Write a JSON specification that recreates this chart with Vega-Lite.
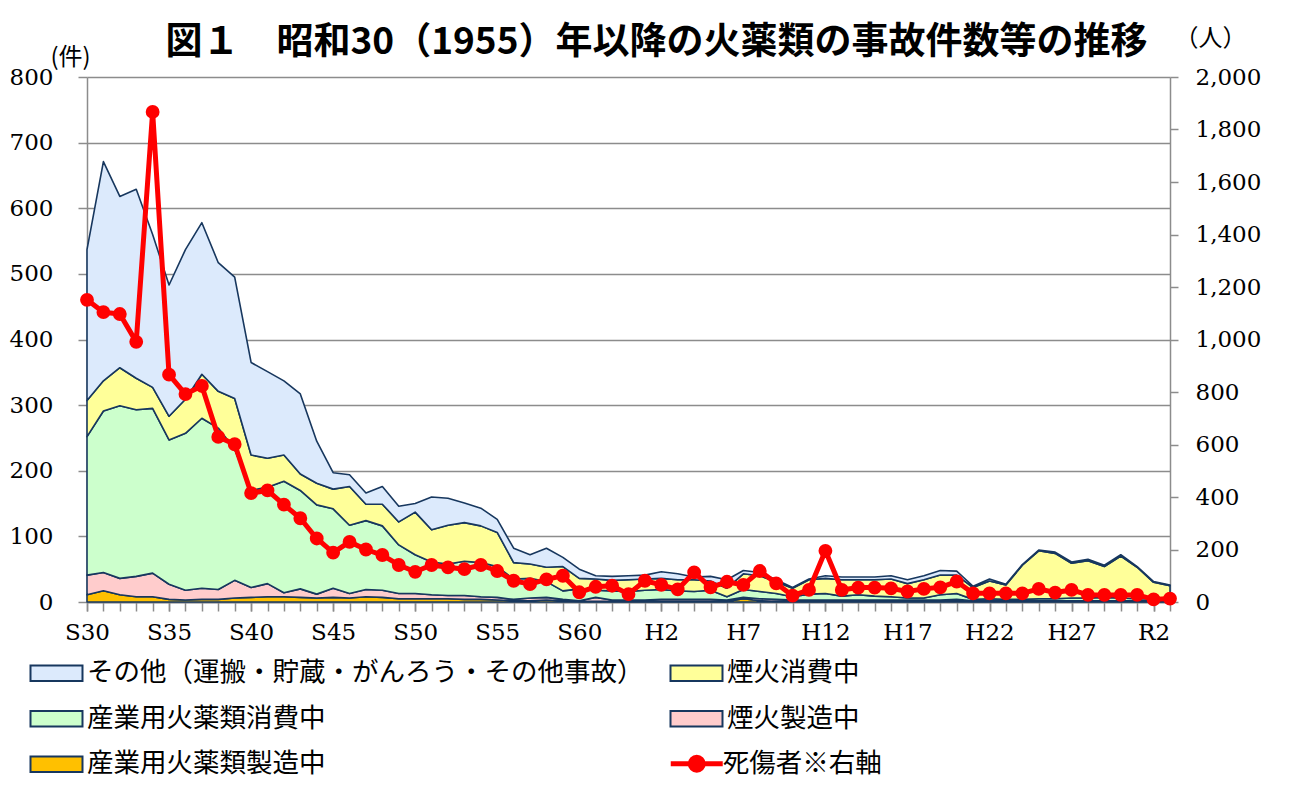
{
  "$schema": "https://vega.github.io/schema/vega-lite/v6.json",
  "width": 1083,
  "height": 525,
  "autosize": {"type": "none"},
  "padding": {"left": 87, "top": 77, "right": 137, "bottom": 183},
  "background": "white",
  "config": {"view": {"stroke": null}},
  "title": {
    "text": "図１　昭和30（1955）年以降の火薬類の事故件数等の推移",
    "font": "Noto Sans CJK JP",
    "fontSize": 37,
    "fontWeight": "bold",
    "color": "black",
    "anchor": "middle",
    "frame": "group",
    "dx": 28,
    "offset": -36
  },
  "data": {
    "values": [
      {"year":1955,"k1":11,"k2":30,"k3":211,"k4":55,"k5":230,"d":1151},
      {"year":1956,"k1":17,"k2":28,"k3":246,"k4":46,"k5":334,"d":1104},
      {"year":1957,"k1":11,"k2":25,"k3":263,"k4":58,"k5":261,"d":1097},
      {"year":1958,"k1":8,"k2":31,"k3":254,"k4":48,"k5":288,"d":991},
      {"year":1959,"k1":8,"k2":36,"k3":251,"k4":32,"k5":233,"d":1867},
      {"year":1960,"k1":4,"k2":23,"k3":220,"k4":36,"k5":200,"d":866},
      {"year":1961,"k1":3,"k2":15,"k3":239,"k4":52,"k5":228,"d":792},
      {"year":1962,"k1":4,"k2":17,"k3":259,"k4":67,"k5":231,"d":823},
      {"year":1963,"k1":4,"k2":15,"k3":246,"k4":56,"k5":196,"d":629},
      {"year":1964,"k1":6,"k2":27,"k3":200,"k4":77,"k5":185,"d":601},
      {"year":1965,"k1":7,"k2":15,"k3":148,"k4":54,"k5":141,"d":415},
      {"year":1966,"k1":8,"k2":20,"k3":147,"k4":44,"k5":132,"d":425},
      {"year":1967,"k1":8,"k2":6,"k3":170,"k4":40,"k5":113,"d":371},
      {"year":1968,"k1":7,"k2":13,"k3":150,"k4":25,"k5":122,"d":319},
      {"year":1969,"k1":6,"k2":6,"k3":136,"k4":33,"k5":64,"d":242},
      {"year":1970,"k1":7,"k2":14,"k3":121,"k4":30,"k5":25,"d":188},
      {"year":1971,"k1":6,"k2":7,"k3":104,"k4":59,"k5":18,"d":229},
      {"year":1972,"k1":8,"k2":11,"k3":105,"k4":25,"k5":17,"d":200},
      {"year":1973,"k1":7,"k2":11,"k3":98,"k4":33,"k5":27,"d":179},
      {"year":1974,"k1":5,"k2":8,"k3":74,"k4":35,"k5":24,"d":141},
      {"year":1975,"k1":5,"k2":8,"k3":59,"k4":65,"k5":13,"d":115},
      {"year":1976,"k1":5,"k2":6,"k3":50,"k4":49,"k5":50,"d":141},
      {"year":1977,"k1":5,"k2":5,"k3":48,"k4":59,"k5":41,"d":132},
      {"year":1978,"k1":4,"k2":6,"k3":52,"k4":59,"k5":30,"d":125},
      {"year":1979,"k1":4,"k2":4,"k3":52,"k4":56,"k5":27,"d":141},
      {"year":1980,"k1":3,"k2":4,"k3":47,"k4":52,"k5":20,"d":118},
      {"year":1981,"k1":2,"k2":2,"k3":31,"k4":25,"k5":22,"d":81},
      {"year":1982,"k1":2,"k2":4,"k3":30,"k4":22,"k5":14,"d":68},
      {"year":1983,"k1":3,"k2":4,"k3":24,"k4":22,"k5":29,"d":86},
      {"year":1984,"k1":2,"k2":2,"k3":13,"k4":37,"k5":14,"d":100},
      {"year":1985,"k1":1,"k2":1,"k3":18,"k4":16,"k5":14,"d":37},
      {"year":1986,"k1":1,"k2":6,"k3":11,"k4":17,"k5":5,"d":58},
      {"year":1987,"k1":1,"k2":2,"k3":14,"k4":16,"k5":6,"d":62},
      {"year":1988,"k1":1,"k2":2,"k3":13,"k4":18,"k5":6,"d":30},
      {"year":1989,"k1":1,"k2":2,"k3":15,"k4":17,"k5":6,"d":81},
      {"year":1990,"k1":1,"k2":3,"k3":15,"k4":17,"k5":10,"d":65},
      {"year":1991,"k1":1,"k2":3,"k3":13,"k4":17,"k5":9,"d":48},
      {"year":1992,"k1":1,"k2":3,"k3":12,"k4":18,"k5":4,"d":113},
      {"year":1993,"k1":1,"k2":3,"k3":14,"k4":14,"k5":7,"d":56},
      {"year":1994,"k1":1,"k2":2,"k3":5,"k4":13,"k5":13,"d":77},
      {"year":1995,"k1":5,"k2":2,"k3":12,"k4":24,"k5":5,"d":65},
      {"year":1996,"k1":2,"k2":3,"k3":11,"k4":24,"k5":5,"d":118},
      {"year":1997,"k1":1,"k2":3,"k3":9,"k4":18,"k5":3,"d":71},
      {"year":1998,"k1":1,"k2":2,"k3":5,"k4":13,"k5":1,"d":24},
      {"year":1999,"k1":1,"k2":2,"k3":9,"k4":22,"k5":1,"d":46},
      {"year":2000,"k1":1,"k2":2,"k3":10,"k4":23,"k5":4,"d":195},
      {"year":2001,"k1":1,"k2":2,"k3":6,"k4":25,"k5":4,"d":46},
      {"year":2002,"k1":1,"k2":2,"k3":8,"k4":23,"k5":4,"d":55},
      {"year":2003,"k1":1,"k2":2,"k3":6,"k4":25,"k5":4,"d":55},
      {"year":2004,"k1":1,"k2":2,"k3":5,"k4":27,"k5":5,"d":52},
      {"year":2005,"k1":1,"k2":2,"k3":3,"k4":22,"k5":6,"d":40},
      {"year":2006,"k1":1,"k2":2,"k3":3,"k4":28,"k5":6,"d":50},
      {"year":2007,"k1":1,"k2":2,"k3":8,"k4":30,"k5":7,"d":56},
      {"year":2008,"k1":2,"k2":2,"k3":9,"k4":28,"k5":6,"d":78},
      {"year":2009,"k1":1,"k2":1,"k3":2,"k4":18,"k5":2,"d":33},
      {"year":2010,"k1":1,"k2":1,"k3":3,"k4":27,"k5":3,"d":33},
      {"year":2011,"k1":1,"k2":1,"k3":2,"k4":22,"k5":1,"d":33},
      {"year":2012,"k1":1,"k2":1,"k3":2,"k4":52,"k5":1,"d":33},
      {"year":2013,"k1":1,"k2":1,"k3":3,"k4":73,"k5":1,"d":50},
      {"year":2014,"k1":1,"k2":1,"k3":3,"k4":69,"k5":2,"d":36},
      {"year":2015,"k1":1,"k2":1,"k3":4,"k4":53,"k5":2,"d":46},
      {"year":2016,"k1":1,"k2":1,"k3":4,"k4":57,"k5":2,"d":27},
      {"year":2017,"k1":1,"k2":1,"k3":5,"k4":47,"k5":2,"d":27},
      {"year":2018,"k1":1,"k2":1,"k3":4,"k4":64,"k5":2,"d":27},
      {"year":2019,"k1":1,"k2":1,"k3":3,"k4":48,"k5":1,"d":27},
      {"year":2020,"k1":1,"k2":1,"k3":3,"k4":25,"k5":1,"d":10},
      {"year":2021,"k1":1,"k2":1,"k3":3,"k4":20,"k5":1,"d":13}
    ]
  },
  "layer": [
    {
      "transform": [{"fold": ["k1", "k2", "k3", "k4", "k5"], "as": ["key", "value"]}],
      "mark": {"type": "area", "stroke": "#17375e", "strokeWidth": 1.6, "strokeJoin": "round"},
      "encoding": {
        "x": {
          "field": "year", "type": "quantitative",
          "scale": {"domain": [1955, 2021], "nice": false, "zero": false},
          "axis": {
            "orient": "bottom",
            "title": null,
            "values": [1955,1960,1965,1970,1975,1980,1985,1990,1995,2000,2005,2010,2015,2020],
            "labelExpr": "datum.value <= 1988 ? 'S' + (datum.value - 1925) : (datum.value <= 2018 ? 'H' + (datum.value - 1988) : 'R' + (datum.value - 2018))",
            "grid": false,
            "tickSize": 9,
            "tickWidth": 1.5,
            "tickColor": "#8c8c8c",
            "domainColor": "#8c8c8c",
            "domainWidth": 1.5,
            "labelFont": "DejaVu Serif",
            "labelFontSize": 23,
            "labelColor": "black",
            "labelPadding": 10,
            "labelFlush": false,
            "labelOverlap": false
          }
        },
        "y": {
          "field": "value", "type": "quantitative", "stack": "zero",
          "scale": {"domain": [0, 800], "nice": false},
          "axis": {
            "values": [0,100,200,300,400,500,600,700,800],
            "title": "(件)",
            "titleAngle": 0,
            "titleX": -17,
            "titleY": -20,
            "titleAlign": "center",
            "titleBaseline": "middle",
            "titleFont": "Noto Sans CJK JP",
            "titleFontSize": 24,
            "titleFontWeight": "normal",
            "titleColor": "black",
            "grid": true,
            "gridColor": "#8c8c8c",
            "gridWidth": 1.5,
            "tickSize": 9,
            "tickWidth": 1.5,
            "tickColor": "#8c8c8c",
            "domainColor": "#8c8c8c",
            "domainWidth": 1.5,
            "labelFont": "DejaVu Serif",
            "labelFontSize": 23,
            "labelColor": "black",
            "labelPadding": 25,
            "labelFlush": false
          }
        },
        "fill": {
          "field": "key", "type": "nominal",
          "scale": {"domain": ["k5", "k4", "k3", "k2", "k1"], "range": ["#dceafc", "#ffff99", "#ccffcc", "#ffcccc", "#ffc000"]},
          "legend": {
            "title": null,
            "orient": "none",
            "direction": "horizontal",
            "legendX": -48,
            "legendY": 578.75,
            "columns": 2,
            "columnPadding": 22,
            "rowPadding": 14.5,
            "padding": 0,
            "symbolType": "M-1.6,-0.47H1.6V0.47H-1.6Z",
            "symbolSize": 1056,
            "symbolStrokeColor": "#17375e",
            "symbolStrokeWidth": 2,
            "symbolOpacity": 1,
            "labelFont": "Noto Sans CJK JP",
            "labelFontSize": 26.5,
            "labelColor": "black",
            "labelOffset": 13,
            "labelLimit": 800,
            "labelExpr": "datum.value == 'k5' ? 'その他（運搬・貯蔵・がんろう・その他事故）' : datum.value == 'k4' ? '煙火消費中' : datum.value == 'k3' ? '産業用火薬類消費中' : datum.value == 'k2' ? '煙火製造中' : '産業用火薬類製造中'"
          }
        },
        "order": {"field": "key", "sort": "ascending"}
      }
    },
    {
      "mark": {"type": "line", "strokeWidth": 5, "strokeJoin": "round", "point": {"filled": true, "size": 140, "color": "#ff0000"}},
      "encoding": {
        "x": {
          "field": "year", "type": "quantitative",
          "axis": {
            "orient": "bottom",
            "title": null,
            "values": [1955,1956,1957,1958,1959,1960,1961,1962,1963,1964,1965,1966,1967,1968,1969,1970,1971,1972,1973,1974,1975,1976,1977,1978,1979,1980,1981,1982,1983,1984,1985,1986,1987,1988,1989,1990,1991,1992,1993,1994,1995,1996,1997,1998,1999,2000,2001,2002,2003,2004,2005,2006,2007,2008,2009,2010,2011,2012,2013,2014,2015,2016,2017,2018,2019,2020,2021],
            "labels": false,
            "grid": false,
            "tickSize": 9,
            "tickWidth": 1.5,
            "tickColor": "#8c8c8c",
            "domainColor": "#8c8c8c",
            "domainWidth": 1.5
          }
        },
        "y": {
          "field": "d", "type": "quantitative",
          "scale": {"domain": [0, 2000], "nice": false},
          "axis": {
            "orient": "right",
            "values": [0,200,400,600,800,1000,1200,1400,1600,1800,2000],
            "format": ",.0f",
            "title": "（人）",
            "titleAngle": 0,
            "titleX": 40,
            "titleY": -39,
            "titleAlign": "center",
            "titleBaseline": "middle",
            "titleFont": "Noto Sans CJK JP",
            "titleFontSize": 24,
            "titleFontWeight": "normal",
            "titleColor": "black",
            "grid": false,
            "tickSize": 8,
            "tickWidth": 1.5,
            "tickColor": "#8c8c8c",
            "domainColor": "#8c8c8c",
            "domainWidth": 1.5,
            "labelFont": "DejaVu Serif",
            "labelFontSize": 23,
            "labelColor": "black",
            "labelPadding": 17,
            "labelFlush": false
          }
        },
        "stroke": {
          "datum": "死傷者※右軸", "type": "nominal",
          "scale": {"domain": ["死傷者※右軸"], "range": ["#ff0000"]},
          "legend": {
            "title": null,
            "orient": "none",
            "legendX": 590.75,
            "legendY": 667.75,
            "padding": 0,
            "symbolType": "M-1.6,0H1.6M0.4,0A0.4,0.4,0,1,1,-0.4,0A0.4,0.4,0,1,1,0.4,0Z",
            "symbolSize": 1056,
            "symbolStrokeWidth": 5,
            "symbolFillColor": "#ff0000",
            "labelFont": "Noto Sans CJK JP",
            "labelFontSize": 26.5,
            "labelColor": "black",
            "labelOffset": 7,
            "labelLimit": 400
          }
        }
      }
    }
  ],
  "resolve": {"scale": {"y": "independent"}, "axis": {"x": "independent"}}
}
